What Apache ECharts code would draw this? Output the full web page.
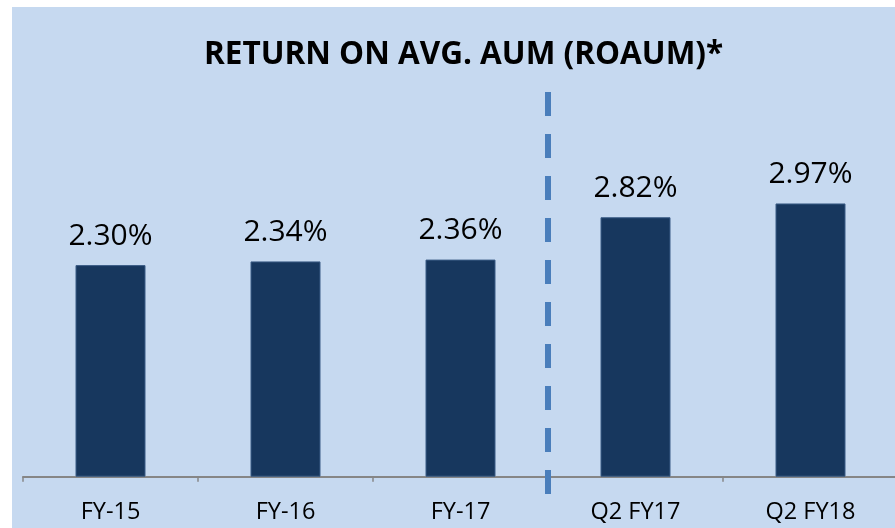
<!DOCTYPE html>
<html>
<head>
<meta charset="utf-8">
<script src="https://cdn.jsdelivr.net/npm/echarts@6/dist/echarts.min.js"></script>
<style>
  html, body { margin: 0; padding: 0; background: #ffffff; overflow: hidden; }
  #chart { position: absolute; left: 12px; top: 7px; width: 890px; height: 521px; }
</style>
</head>
<body>
<div id="chart"></div>
<script>
"use strict";

// Chart data
const categories = ["FY-15", "FY-16", "FY-17", "Q2 FY17", "Q2 FY18"];
const roaum = [2.30, 2.34, 2.36, 2.82, 2.97];
const titleText = "RETURN ON AVG. AUM (ROAUM)*";
// the dashed divider sits between these two categories
const dividerBetween = ["FY-17", "Q2 FY17"];

const chart = echarts.init(document.getElementById("chart"));

chart.setOption({
  backgroundColor: "#C6D9F0",
  animation: false,
  title: {
    text: titleText,
    left: 187,
    top: 27,
    textStyle: {
      fontFamily: "Open Sans",
      fontWeight: "bold",
      fontSize: 31.5,
      color: "#000000",
    },
  },
  grid: { left: 11, right: 4, top: 101.7, bottom: 51.3 },
  xAxis: {
    type: "category",
    data: categories,
    axisLine: { lineStyle: { color: "#868686", width: 2 } },
    axisTick: { show: true, length: 5, lineStyle: { color: "#868686", width: 1.5 } },
    axisLabel: {
      margin: 24,
      fontFamily: "Open Sans",
      fontSize: 23.5,
      color: "#000000",
    },
  },
  yAxis: {
    type: "value",
    min: 0,
    max: 4,
    show: false,
    splitLine: { show: false },
  },
  series: [
    {
      type: "bar",
      data: roaum,
      barWidth: "40%",
      itemStyle: { color: "#17375E", borderColor: "#3B5C86", borderWidth: 1 },
      label: {
        show: true,
        position: "top",
        distance: 14,
        fontFamily: "Open Sans",
        fontSize: 30,
        color: "#000000",
        formatter: (p) => p.value.toFixed(2) + "%",
      },
    },
  ],
});

// Dashed divider between the annual and quarterly bars
function drawDivider() {
  const a = chart.convertToPixel({ xAxisIndex: 0 }, dividerBetween[0]);
  const b = chart.convertToPixel({ xAxisIndex: 0 }, dividerBetween[1]);
  const x = (a + b) / 2;
  chart.setOption({
    graphic: [
      {
        type: "line",
        shape: { x1: x, y1: 85, x2: x, y2: 487 },
        style: { stroke: "#4A7EBB", lineWidth: 6, lineDash: [24, 18] },
        z: 10,
      },
    ],
  });
}
drawDivider();
</script>
</body>
</html>
